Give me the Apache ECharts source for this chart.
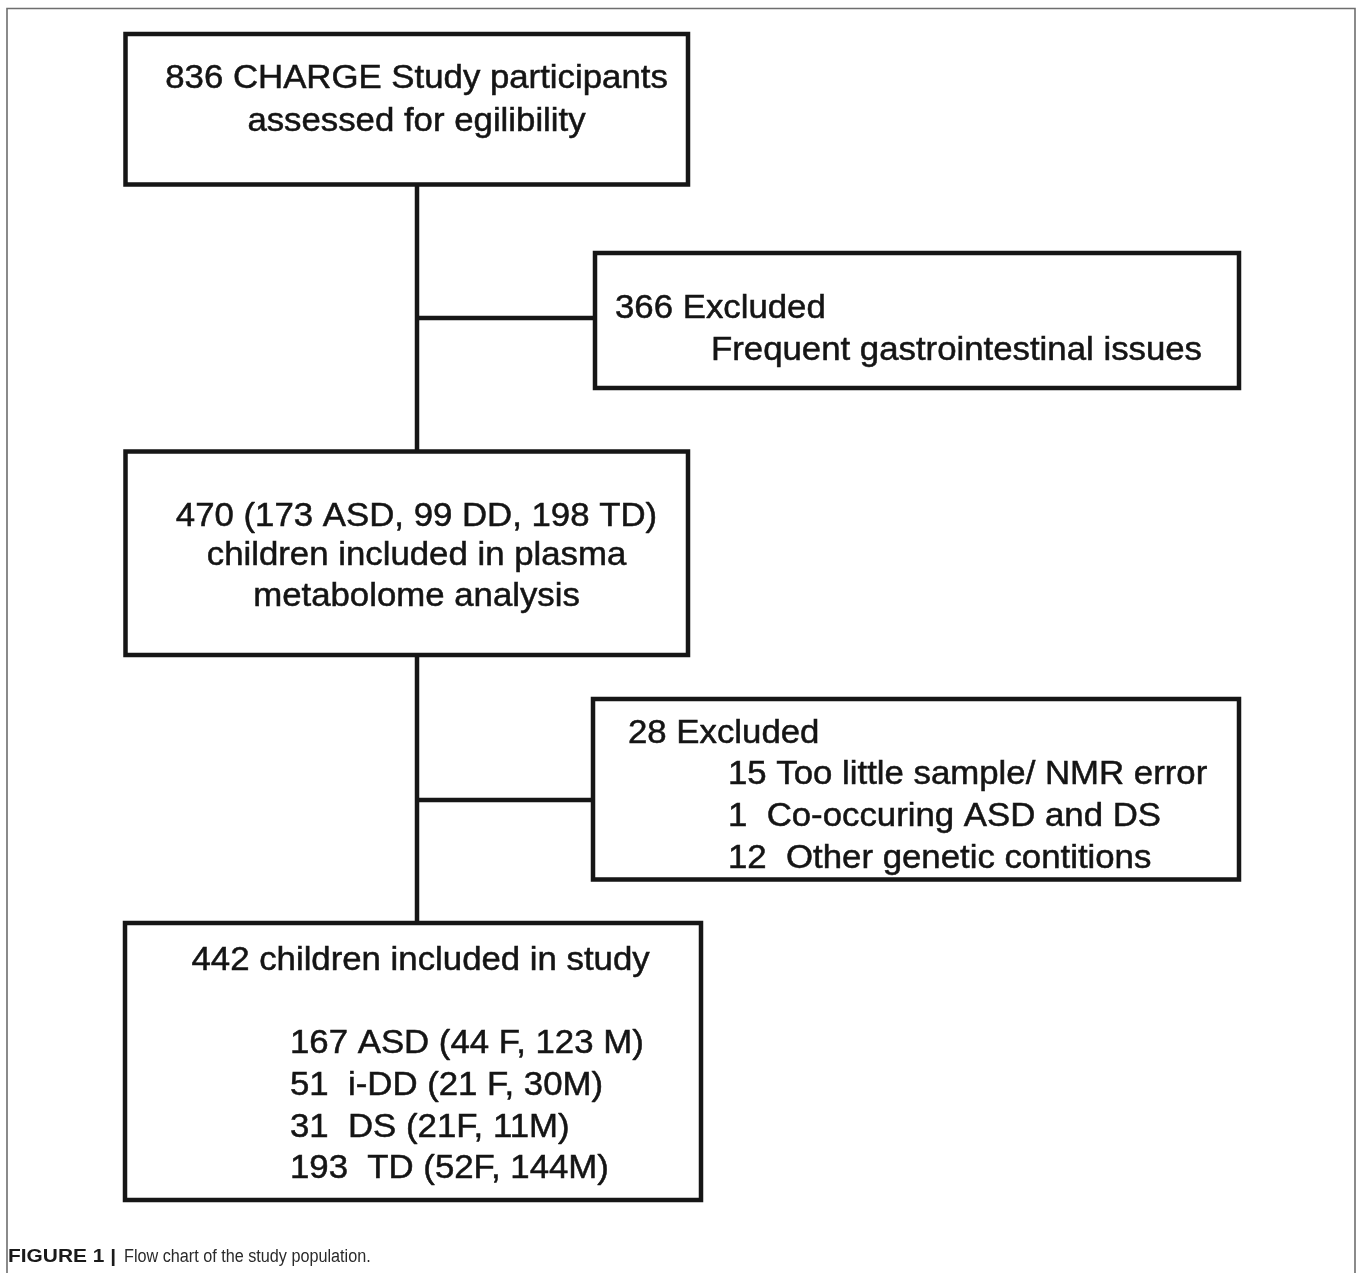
<!DOCTYPE html>
<html><head><meta charset="utf-8">
<script src="https://cdn.jsdelivr.net/npm/echarts@6/dist/echarts.min.js"></script>
<style>html,body{margin:0;padding:0;background:#fff}#c{width:1358px;height:1273px}</style>
</head><body><div id="c"></div>
<script>
// ---- content ----
const box1Lines = ['836 CHARGE Study participants', 'assessed for egilibility'];
const box2Lines = ['366 Excluded', 'Frequent gastrointestinal issues'];
const box3Lines = ['470 (173 ASD, 99 DD, 198 TD)', 'children included in plasma', 'metabolome analysis'];
const box4Lines = ['28 Excluded', '15 Too little sample/ NMR error', '1  Co-occuring ASD and DS', '12  Other genetic contitions'];
const box5Lines = ['442 children included in study', '167 ASD (44 F, 123 M)', '51  i-DD (21 F, 30M)', '31  DS (21F, 11M)', '193  TD (52F, 144M)'];
const captionBold = 'FIGURE 1 |';
const captionText = 'Flow chart of the study population.';

// ---- layout (page units) ----
const boxLayout = [
  {lines: box1Lines, rect: [125.5, 34, 688, 184.5], align: 'center', anchors: [[416.5, 79], [416.5, 122]]},
  {lines: box2Lines, rect: [595, 253, 1239, 388], align: 'left', anchors: [[615, 309], [711, 351]]},
  {lines: box3Lines, rect: [125.5, 451.5, 688, 655], align: 'center', anchors: [[416.5, 517], [416.5, 556], [416.5, 597]]},
  {lines: box4Lines, rect: [593, 699, 1239, 879.5], align: 'left', anchors: [[628, 734], [728, 775], [728, 817], [728, 859]]},
  {lines: box5Lines, rect: [125, 923, 701, 1200], align: 'left', anchors: [[191.5, 961], [290, 1044], [290, 1086], [290, 1128], [290, 1169]]}
];
const connectorLayout = [
  [[417, 184.5], [417, 451.5]],
  [[417, 318], [595, 318]],
  [[417, 655], [417, 923]],
  [[417, 800], [593, 800]]
];

const W = 1358, H = 1273;
const chart = echarts.init(document.getElementById('c'), null, {renderer: 'canvas'});
const FONT = '"Liberation Sans", Arial, Helvetica, sans-serif';

chart.setOption({
  backgroundColor: '#fff',
  animation: false,
  grid: {left: 0, right: 0, top: 0, bottom: 0},
  xAxis: {type: 'value', min: 0, max: W, show: false},
  yAxis: {type: 'value', min: 0, max: H, inverse: true, show: false},
  graphic: [
    {type: 'rect', shape: {x: 7, y: 8.5, width: 1348, height: 1300}, style: {fill: 'none', stroke: '#6e6e6e', lineWidth: 1.6}, z: 0},
    {type: 'text', x: 8, y: 1257, scaleX: 1.1, style: {
      text: captionBold, fontFamily: FONT, fontSize: 19, fontWeight: 'bold', fill: '#1a1a1a',
      verticalAlign: 'middle', align: 'left'
    }},
    {type: 'text', x: 124, y: 1257, scaleX: 0.9, style: {
      text: captionText, fontFamily: FONT, fontSize: 18, fill: '#2a2a2a',
      verticalAlign: 'middle', align: 'left'
    }}
  ],
  series: [
    {
      type: 'custom',
      coordinateSystem: 'cartesian2d',
      data: connectorLayout.map((c, i) => [i]),
      silent: true,
      z: 1,
      renderItem: function (params, api) {
        const seg = connectorLayout[params.dataIndex];
        const p1 = api.coord(seg[0]);
        const p2 = api.coord(seg[1]);
        return {type: 'line', shape: {x1: p1[0], y1: p1[1], x2: p2[0], y2: p2[1]},
          style: {stroke: '#161616', lineWidth: 4.5, lineCap: 'butt'}};
      }
    },
    {
      type: 'custom',
      coordinateSystem: 'cartesian2d',
      data: boxLayout.map((b, i) => [i]),
      silent: true,
      z: 2,
      renderItem: function (params, api) {
        const b = boxLayout[params.dataIndex];
        const a = api.coord([b.rect[0], b.rect[1]]);
        const c = api.coord([b.rect[2], b.rect[3]]);
        const children = [{
          type: 'rect',
          shape: {x: a[0], y: a[1], width: c[0] - a[0], height: c[1] - a[1]},
          style: {fill: '#fff', stroke: '#161616', lineWidth: 4.5, lineJoin: 'miter'}
        }];
        b.lines.forEach(function (t, k) {
          const p = api.coord(b.anchors[k]);
          children.push({
            type: 'text', x: p[0], y: p[1], scaleX: 1.07,
            style: {text: t, x: 0, y: 0, fontFamily: FONT, fontSize: 32.5, fill: '#141414',
              stroke: '#141414', lineWidth: 0.5,
              align: b.align, verticalAlign: 'middle'}
          });
        });
        return {type: 'group', children: children};
      }
    }
  ]
});
</script>
</body></html>
